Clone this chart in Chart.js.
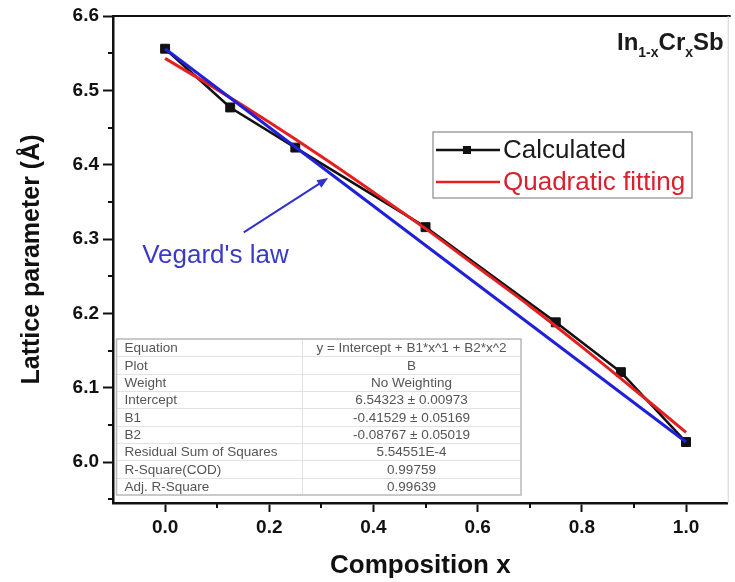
<!DOCTYPE html>
<html>
<head>
<meta charset="utf-8">
<script src="https://cdn.jsdelivr.net/npm/chart.js@4.4.1/dist/chart.umd.min.js"></script>
<style>
  html, body { margin: 0; padding: 0; background: #ffffff; }
  #wrap { width: 735px; height: 582px; position: relative; }
</style>
</head>
<body>
<div id="wrap"><canvas id="c" width="735" height="582"></canvas></div>
<script>
// Lattice parameter of In(1-x)Cr(x)Sb versus Cr composition
const compositionX = [0, 0.125, 0.25, 0.5, 0.75, 0.875, 1.0];
const calculatedA  = [6.556, 6.477, 6.423, 6.316, 6.188, 6.121, 6.027];

// quadratic fit curve, y = 6.54323 - 0.41529 x - 0.08767 x^2
const fitX = [0, 0.1, 0.2, 0.3, 0.4, 0.5, 0.6, 0.7, 0.8, 0.9, 1.0];
const fitA = [6.543, 6.501, 6.457, 6.411, 6.363, 6.314, 6.262, 6.210, 6.155, 6.098, 6.040];

// Vegard's law: straight line between the end members
const vegardX = [0, 1];
const vegardA = [6.556, 6.027];

const xTickValues  = [0.0, 0.2, 0.4, 0.6, 0.8, 1.0];
const xMinorValues = [0.1, 0.3, 0.5, 0.7, 0.9];
const yTickValues  = [6.0, 6.1, 6.2, 6.3, 6.4, 6.5, 6.6];
const yMinorValues = [5.95, 6.05, 6.15, 6.25, 6.35, 6.45, 6.55];

const fitTableRows = [
  ["Equation", "y = Intercept + B1*x^1 + B2*x^2"],
  ["Plot", "B"],
  ["Weight", "No Weighting"],
  ["Intercept", "6.54323 \u00b1 0.00973"],
  ["B1", "-0.41529 \u00b1 0.05169"],
  ["B2", "-0.08767 \u00b1 0.05019"],
  ["Residual Sum of Squares", "5.54551E-4"],
  ["R-Square(COD)", "0.99759"],
  ["Adj. R-Square", "0.99639"]
];

const FONT = "'Liberation Sans', Arial, Helvetica, sans-serif";
const BLACK = '#111111';
const RED = '#e3201f';
const BLUE = '#2020d8';
const LABEL_BLUE = '#3a3ac4';

const toPoints = (xs, ys) => xs.map((x, i) => ({ x: x, y: ys[i] }));

// extra drawing: frame, minor ticks, fit table, legend, formula label, annotation
const decorations = {
  id: 'decorations',
  afterDraw(chart) {
    const ctx = chart.ctx;
    const area = chart.chartArea;
    const xs = chart.scales.x;
    const ys = chart.scales.y;
    ctx.save();

    // top frame line and faint right edge
    ctx.strokeStyle = BLACK;
    ctx.lineWidth = 2;
    ctx.beginPath();
    ctx.moveTo(area.left, area.top);
    ctx.lineTo(area.right + 3, area.top);
    ctx.stroke();
    ctx.strokeStyle = '#d0d0d0';
    ctx.lineWidth = 1;
    ctx.beginPath();
    ctx.moveTo(area.right + 0.5, area.top);
    ctx.lineTo(area.right + 0.5, area.bottom);
    ctx.stroke();

    // minor ticks
    ctx.strokeStyle = BLACK;
    ctx.lineWidth = 2;
    ctx.beginPath();
    xMinorValues.forEach(v => {
      const px = Math.round(xs.getPixelForValue(v));
      ctx.moveTo(px, area.bottom);
      ctx.lineTo(px, area.bottom + 5);
    });
    yMinorValues.forEach(v => {
      const py = Math.round(ys.getPixelForValue(v));
      ctx.moveTo(area.left, py);
      ctx.lineTo(area.left - 5, py);
    });
    ctx.stroke();

    // fit parameter table
    const tLeft = area.left + 3.5, tRight = 521, tTop = 339, tBottom = 495;
    const colX = 302;
    const rowH = (tBottom - tTop) / fitTableRows.length;
    ctx.fillStyle = '#ffffff';
    ctx.fillRect(tLeft, tTop, tRight - tLeft, tBottom - tTop);
    ctx.strokeStyle = '#e2e2e2';
    ctx.lineWidth = 1;
    ctx.beginPath();
    for (let i = 1; i < fitTableRows.length; i++) {
      const y = Math.round(tTop + i * rowH) + 0.5;
      ctx.moveTo(tLeft, y);
      ctx.lineTo(tRight, y);
    }
    ctx.moveTo(colX + 0.5, tTop);
    ctx.lineTo(colX + 0.5, tBottom);
    ctx.stroke();
    ctx.strokeStyle = '#b8b8b8';
    ctx.lineWidth = 1.5;
    ctx.strokeRect(tLeft, tTop, tRight - tLeft, tBottom - tTop);
    ctx.font = '13.5px ' + FONT;
    ctx.fillStyle = '#555555';
    ctx.textBaseline = 'middle';
    fitTableRows.forEach((row, i) => {
      const cy = tTop + (i + 0.5) * rowH + 1;
      ctx.textAlign = 'left';
      ctx.fillText(row[0], tLeft + 8, cy);
      ctx.textAlign = 'center';
      ctx.fillText(row[1], (colX + tRight) / 2, cy);
    });

    // legend box
    const lg = { left: 433, top: 132, right: 692, bottom: 198 };
    ctx.fillStyle = '#ffffff';
    ctx.fillRect(lg.left, lg.top, lg.right - lg.left, lg.bottom - lg.top);
    ctx.strokeStyle = '#8a8a8a';
    ctx.lineWidth = 1.2;
    ctx.strokeRect(lg.left, lg.top, lg.right - lg.left, lg.bottom - lg.top);
    const legendItems = [
      { ds: chart.data.datasets[0], y: 150, color: '#1a1a1a' },
      { ds: chart.data.datasets[1], y: 182, color: '#d8202e' }
    ];
    ctx.font = '26px ' + FONT;
    ctx.textAlign = 'left';
    ctx.textBaseline = 'middle';
    legendItems.forEach(item => {
      ctx.strokeStyle = item.ds.borderColor;
      ctx.lineWidth = 2.5;
      ctx.beginPath();
      ctx.moveTo(436, item.y);
      ctx.lineTo(500, item.y);
      ctx.stroke();
      if (item.ds.pointRadius > 0) {
        ctx.fillStyle = item.ds.pointBackgroundColor;
        ctx.fillRect(463, item.y - 4, 8, 8);
      }
      ctx.fillStyle = item.color;
      ctx.fillText(item.ds.label, 503, item.y + 1);
    });

    // compound formula In(1-x)Cr(x)Sb
    const parts = [
      ['In', 24, 0], ['1-x', 14, 7], ['Cr', 24, 0], ['x', 14, 7], ['Sb', 24, 0]
    ];
    let tx = 617;
    ctx.fillStyle = '#1a1a1a';
    ctx.textBaseline = 'alphabetic';
    ctx.textAlign = 'left';
    parts.forEach(p => {
      ctx.font = 'bold ' + p[1] + 'px ' + FONT;
      ctx.fillText(p[0], tx, 50 + p[2]);
      tx += ctx.measureText(p[0]).width;
    });

    // Vegard's law label with arrow to the line
    const tailX = xs.getPixelForValue(0.151), tailY = ys.getPixelForValue(6.309);
    const headX = xs.getPixelForValue(0.313), headY = ys.getPixelForValue(6.382);
    ctx.strokeStyle = '#3030cc';
    ctx.fillStyle = '#3030cc';
    ctx.lineWidth = 2;
    const ang = Math.atan2(headY - tailY, headX - tailX);
    ctx.beginPath();
    ctx.moveTo(tailX, tailY);
    ctx.lineTo(headX - 8 * Math.cos(ang), headY - 8 * Math.sin(ang));
    ctx.stroke();
    ctx.beginPath();
    ctx.moveTo(headX, headY);
    ctx.lineTo(headX - 11 * Math.cos(ang) + 4.5 * Math.sin(ang), headY - 11 * Math.sin(ang) - 4.5 * Math.cos(ang));
    ctx.lineTo(headX - 11 * Math.cos(ang) - 4.5 * Math.sin(ang), headY - 11 * Math.sin(ang) + 4.5 * Math.cos(ang));
    ctx.closePath();
    ctx.fill();

    ctx.font = '26px ' + FONT;
    ctx.fillStyle = LABEL_BLUE;
    ctx.textBaseline = 'alphabetic';
    ctx.fillText("Vegard's law", xs.getPixelForValue(-0.044), ys.getPixelForValue(6.268));

    ctx.restore();
  }
};

new Chart(document.getElementById('c'), {
  type: 'scatter',
  data: {
    datasets: [
      {
        label: 'Calculated',
        data: toPoints(compositionX, calculatedA),
        showLine: true,
        borderColor: BLACK,
        borderWidth: 2.5,
        pointStyle: 'rect',
        pointRadius: 6.3,
        pointBackgroundColor: BLACK,
        pointBorderColor: BLACK,
        pointBorderWidth: 1,
        order: 3
      },
      {
        label: 'Quadratic fitting',
        data: toPoints(fitX, fitA),
        showLine: true,
        borderColor: RED,
        borderWidth: 3,
        pointRadius: 0,
        tension: 0.3,
        order: 2
      },
      {
        label: "Vegard's law",
        data: toPoints(vegardX, vegardA),
        showLine: true,
        borderColor: BLUE,
        borderWidth: 3,
        pointRadius: 0,
        order: 1
      }
    ]
  },
  options: {
    responsive: false,
    animation: false,
    devicePixelRatio: 1,
    layout: { padding: { top: 16, right: 3, left: 0, bottom: 0 } },
    plugins: {
      legend: { display: false },
      tooltip: { enabled: false }
    },
    scales: {
      x: {
        type: 'linear',
        min: -0.1,
        max: 1.08,
        afterBuildTicks: s => { s.ticks = xTickValues.map(v => ({ value: v })); },
        afterFit: s => { s.height = 79; },
        ticks: {
          autoSkip: false,
          maxRotation: 0,
          padding: 4,
          color: BLACK,
          font: { family: FONT, size: 19, weight: 'bold' },
          callback: v => Number(v).toFixed(1)
        },
        grid: { drawOnChartArea: false, tickLength: 9, tickWidth: 2, tickColor: BLACK },
        border: { color: BLACK, width: 2.5 },
        title: {
          display: true,
          text: 'Composition x',
          color: BLACK,
          font: { family: FONT, size: 26, weight: 'bold', lineHeight: 1 },
          padding: { top: 0, bottom: 3 }
        }
      },
      y: {
        type: 'linear',
        min: 5.945,
        max: 6.6,
        afterBuildTicks: s => { s.ticks = yTickValues.map(v => ({ value: v })); },
        afterFit: s => { s.width = 113; },
        ticks: {
          autoSkip: false,
          padding: 4,
          color: BLACK,
          font: { family: FONT, size: 19, weight: 'bold' },
          callback: v => Number(v).toFixed(1)
        },
        grid: { drawOnChartArea: false, tickLength: 10, tickWidth: 2, tickColor: BLACK },
        border: { color: BLACK, width: 2.5 },
        title: {
          display: true,
          text: 'Lattice parameter (\u00c5)',
          color: BLACK,
          font: { family: FONT, size: 25, weight: 'bold', lineHeight: 1.2 },
          padding: { top: 17, bottom: 0 }
        }
      }
    }
  },
  plugins: [decorations]
});
</script>
</body>
</html>
